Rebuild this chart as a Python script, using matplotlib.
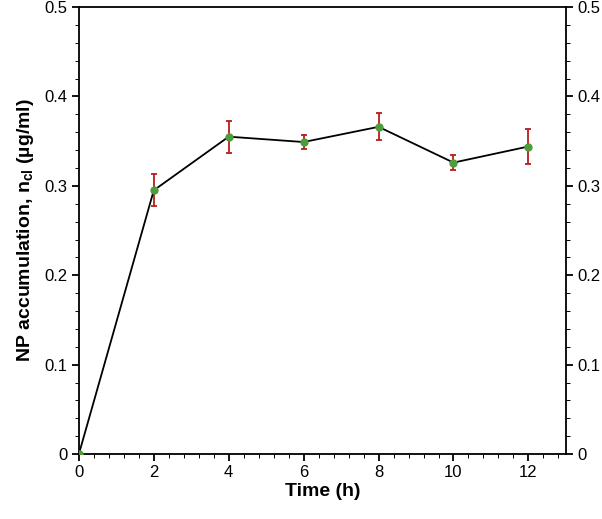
import matplotlib
matplotlib.use("Agg")
import matplotlib.pyplot as plt
from matplotlib.ticker import MultipleLocator

plt.rcParams["font.family"] = ["Liberation Sans", "DejaVu Sans"]
plt.rcParams["mathtext.fontset"] = "custom"
plt.rcParams["mathtext.rm"] = "Liberation Sans"
plt.rcParams["mathtext.bf"] = "Liberation Sans:bold"

# data
time_h = [0, 2, 4, 6, 8, 10, 12]
accumulation = [0.0, 0.295, 0.355, 0.349, 0.366, 0.326, 0.344]
err = [0.0, 0.018, 0.018, 0.008, 0.015, 0.008, 0.020]

fig = plt.figure(figsize=(6.02, 5.19), dpi=100)
ax = fig.add_axes([0.131, 0.125, 0.809, 0.8615])

ax.errorbar(time_h, accumulation, yerr=err, color="black", lw=1.3,
            ecolor="#b81c1c", elinewidth=1.3, capsize=2.5, capthick=1.3,
            marker="o", markersize=5, markerfacecolor="#4d9e3a",
            markeredgecolor="#4d9e3a", zorder=3)

ax.set_xlim(0, 13)
ax.set_ylim(0, 0.5)
ax.xaxis.set_major_locator(MultipleLocator(2))
ax.xaxis.set_minor_locator(MultipleLocator(0.4))
ax.yaxis.set_major_locator(MultipleLocator(0.1))
ax.yaxis.set_minor_locator(MultipleLocator(0.02))
ax.yaxis.set_major_formatter(plt.FuncFormatter(lambda v, p: "0" if v == 0 else f"{v:.1f}"))

for s in ax.spines.values():
    s.set_linewidth(1.3)

ax.tick_params(which="both", direction="out", top=False, right=True,
               labelright=True, labelsize=12, pad=3)
ax.tick_params(which="major", length=5, width=1.3)
ax.tick_params(which="minor", length=3, width=0.7)

ax.set_xlabel("Time (h)", fontsize=14, fontweight="bold", labelpad=2)
ax.set_ylabel(r"NP accumulation, n$_{\mathregular{cl}}$ (µg/ml)", fontsize=14,
              fontweight="bold", labelpad=6)

fig.savefig("out.png", dpi=100)
